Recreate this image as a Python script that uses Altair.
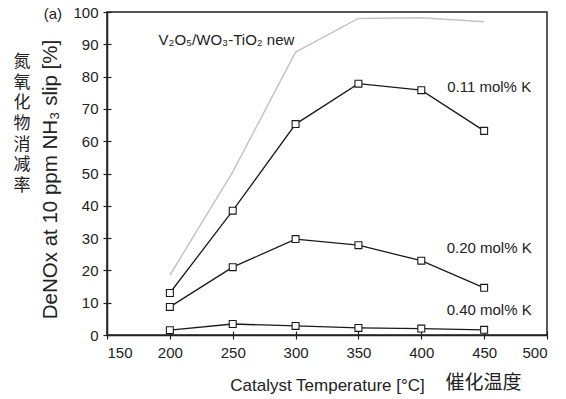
import altair as alt
import pandas as pd

temps = [200, 250, 300, 350, 400, 450]
new_cat = [18.5, 50.5, 87.6, 98.0, 98.2, 97.0]
k011 = [13.0, 38.5, 65.3, 77.8, 75.8, 63.2]
k020 = [8.7, 21.0, 29.7, 27.8, 23.0, 14.6]
k040 = [1.5, 3.4, 2.8, 2.2, 2.0, 1.6]
series_names = ["0.11 mol% K", "0.20 mol% K", "0.40 mol% K"]

x_ticks = [150, 200, 250, 300, 350, 400, 450, 500]
y_ticks = [0, 10, 20, 30, 40, 50, 60, 70, 80, 90, 100]

label_text = ["V₂O₅/WO₃-TiO₂ new", "0.11 mol% K", "0.20 mol% K", "0.40 mol% K"]
label_x = [245, 454, 454, 454]
label_y = [91.3, 76.8, 26.9, 7.7]

FONT = "Liberation Sans"
INK = "#222222"

rows = []
for name, vals in zip(series_names, [k011, k020, k040]):
    for t, v in zip(temps, vals):
        rows.append({"T": t, "v": v, "series": name})
df_k = pd.DataFrame(rows)
df_new = pd.DataFrame({"T": temps, "v": new_cat})
df_lab = pd.DataFrame({"x": label_x, "y": label_y, "text": label_text})
df_cn_y = pd.DataFrame({"x": [82.4], "y": [87.0], "text": ["氮\n氧\n化\n物\n消\n减\n率"]})
df_cn_x = pd.DataFrame({"x": [449.5], "y": [-14.9], "text": ["催化温度"]})
df_a = pd.DataFrame({"x": [107.0], "y": [99.4], "text": ["(a)"]})

xs = alt.Scale(domain=[150, 500], nice=False, zero=False)
ys = alt.Scale(domain=[0, 100], nice=False)

x_main = alt.Axis(values=x_ticks, format="d", tickSize=4, tickColor=INK, domainColor=INK,
                  domainWidth=1.5, tickWidth=1.2, labelFont=FONT, labelFontSize=15,
                  labelColor=INK, labelPadding=6, grid=False,
                  title="Catalyst Temperature [°C]", titleFont=FONT, titleFontSize=17,
                  titleFontWeight="normal", titleColor=INK, titleY=50, titleBaseline="middle",
                  orient="bottom")
y_main = alt.Axis(values=y_ticks, format="d", tickSize=4, tickColor=INK, domainColor=INK,
                  domainWidth=1.5, tickWidth=1.2, labelFont=FONT, labelFontSize=15,
                  labelColor=INK, labelPadding=5, grid=False,
                  title="DeNOx at 10 ppm NH₃ slip [%]", titleFont=FONT, titleFontSize=20.5,
                  titleFontWeight="normal", titleColor=INK, titleX=-57, titleY=167,
                  titleAngle=-90, titleAlign="center", titleBaseline="middle", orient="left")

x_inner = alt.Axis(values=x_ticks, tickSize=4, offset=-4, tickColor=INK, tickWidth=1.2,
                   domain=False, labels=False, grid=False, title=None, orient="bottom")
y_inner = alt.Axis(values=y_ticks, tickSize=4, offset=-4, tickColor=INK, tickWidth=1.2,
                   domain=False, labels=False, grid=False, title=None, orient="left")

base_new = alt.Chart(df_new).mark_line(color="#c4c4c4", strokeWidth=1.5).encode(
    x=alt.X("T:Q", scale=xs, axis=x_main),
    y=alt.Y("v:Q", scale=ys, axis=y_main),
)

inner = alt.Chart(df_new).mark_point(opacity=0).encode(
    x=alt.X("T:Q", scale=xs, axis=x_inner),
    y=alt.Y("v:Q", scale=ys, axis=y_inner),
)

lines_k = alt.Chart(df_k).mark_line(color="#1a1a1a", strokeWidth=1.3).encode(
    x=alt.X("T:Q", scale=xs, axis=None),
    y=alt.Y("v:Q", scale=ys, axis=None),
    detail="series:N",
)
pts_k = alt.Chart(df_k).mark_point(shape="square", filled=False, fill="white", fillOpacity=1,
                                   stroke="#1a1a1a", strokeWidth=1.1, size=48, opacity=1).encode(
    x=alt.X("T:Q", scale=xs, axis=None),
    y=alt.Y("v:Q", scale=ys, axis=None),
)

labels = alt.Chart(df_lab).mark_text(font=FONT, fontSize=15, color=INK, align="center",
                                     baseline="middle").encode(
    x=alt.X("x:Q", scale=xs, axis=None), y=alt.Y("y:Q", scale=ys, axis=None), text="text:N")
cn_y = alt.Chart(df_cn_y).mark_text(font="Noto Sans CJK SC", fontSize=17, color=INK,
                                    align="center", baseline="top", lineBreak="\n",
                                    lineHeight=20.7).encode(
    x=alt.X("x:Q", scale=xs, axis=None), y=alt.Y("y:Q", scale=ys, axis=None), text="text:N")
cn_x = alt.Chart(df_cn_x).mark_text(font="Noto Sans CJK SC", fontSize=19, color=INK,
                                    align="center", baseline="middle").encode(
    x=alt.X("x:Q", scale=xs, axis=None), y=alt.Y("y:Q", scale=ys, axis=None), text="text:N")
a_lab = alt.Chart(df_a).mark_text(font=FONT, fontSize=15, color=INK, align="center",
                                  baseline="middle").encode(
    x=alt.X("x:Q", scale=xs, axis=None), y=alt.Y("y:Q", scale=ys, axis=None), text="text:N")

chart = alt.layer(base_new, inner, lines_k, pts_k, labels, cn_y, cn_x, a_lab).resolve_axis(
    x="independent", y="independent"
).properties(
    width=440, height=323,
    autosize=alt.AutoSizeParams(type="none"),
    padding={"left": 107, "top": 12, "right": 19, "bottom": 64},
    background="white",
).configure_view(stroke=INK, strokeWidth=1.5)

chart.save("out.html", embed_options={"renderer": "svg", "actions": False})
